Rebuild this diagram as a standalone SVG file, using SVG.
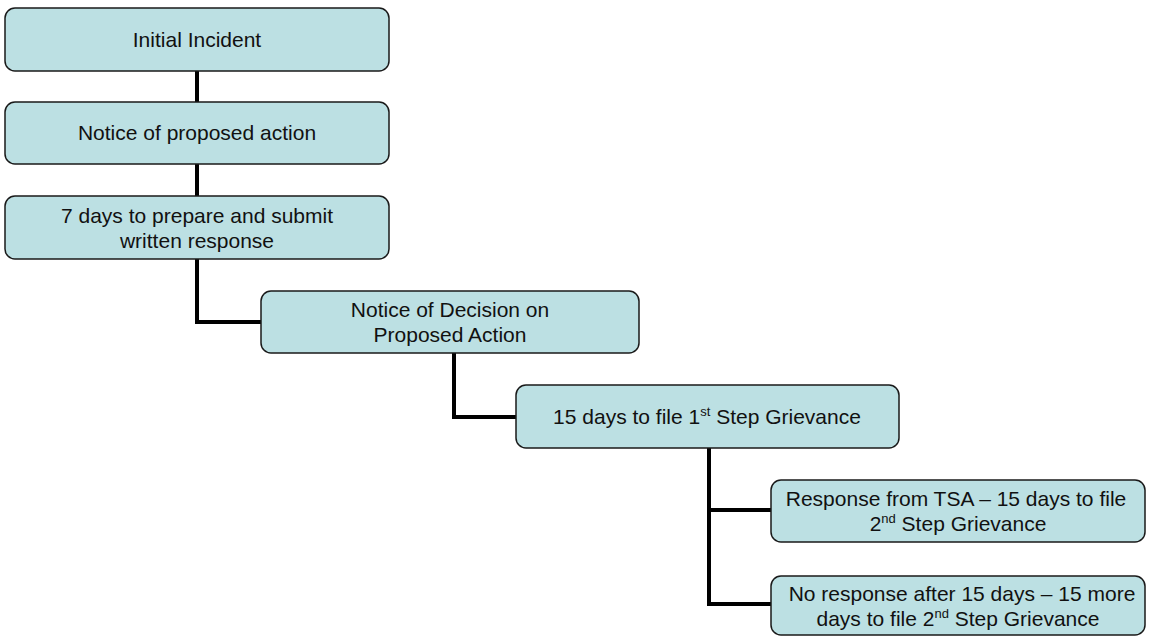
<svg xmlns="http://www.w3.org/2000/svg" width="1160" height="637" viewBox="0 0 1160 637">
<style>
.box{fill:#BCE0E3;stroke:#1a1a1a;stroke-width:1.5}
.t{font-family:"Liberation Sans",Arial,sans-serif;font-size:21px;fill:#111;text-anchor:middle}
.sup{font-size:13px}
.c{fill:none;stroke:#000;stroke-width:4}
</style>
<rect width="1160" height="637" fill="#fff"/>
<g id="connectors">
<path class="c" d="M197 71V102"/>
<path class="c" d="M197 164V196"/>
<path class="c" d="M197 259V322H261"/>
<path class="c" d="M454 353V417H516"/>
<path class="c" d="M709 448V604H771"/>
<path class="c" d="M709 510H771"/>
</g>
<g id="n1"><rect class="box" x="5" y="8" width="384" height="63" rx="10"/><text class="t" x="197" y="47">Initial Incident</text></g>
<g id="n2"><rect class="box" x="5" y="102" width="384" height="62" rx="10"/><text class="t" x="197" y="140">Notice of proposed action</text></g>
<g id="n3"><rect class="box" x="5" y="196" width="384" height="63" rx="10"/><text class="t" x="197" y="223">7 days to prepare and submit</text><text class="t" x="197" y="248">written response</text></g>
<g id="n4"><rect class="box" x="261" y="291" width="378" height="62" rx="10"/><text class="t" x="450" y="317">Notice of Decision on</text><text class="t" x="450" y="342">Proposed Action</text></g>
<g id="n5"><rect class="box" x="516" y="385" width="383" height="63" rx="10"/><text class="t" x="707" y="424">15 days to file 1<tspan class="sup" dy="-8">st</tspan><tspan dy="8"> Step Grievance</tspan></text></g>
<g id="n6"><rect class="box" x="771" y="480" width="374" height="62" rx="10"/><text class="t" x="956" y="506">Response from TSA – 15 days to file</text><text class="t" x="958" y="531">2<tspan class="sup" dy="-8">nd</tspan><tspan dy="8"> Step Grievance</tspan></text></g>
<g id="n7"><rect class="box" x="771" y="576" width="374" height="59" rx="10"/><text class="t" x="962" y="601">No response after 15 days – 15 more</text><text class="t" x="958" y="626">days to file 2<tspan class="sup" dy="-8">nd</tspan><tspan dy="8"> Step Grievance</tspan></text></g>
</svg>
